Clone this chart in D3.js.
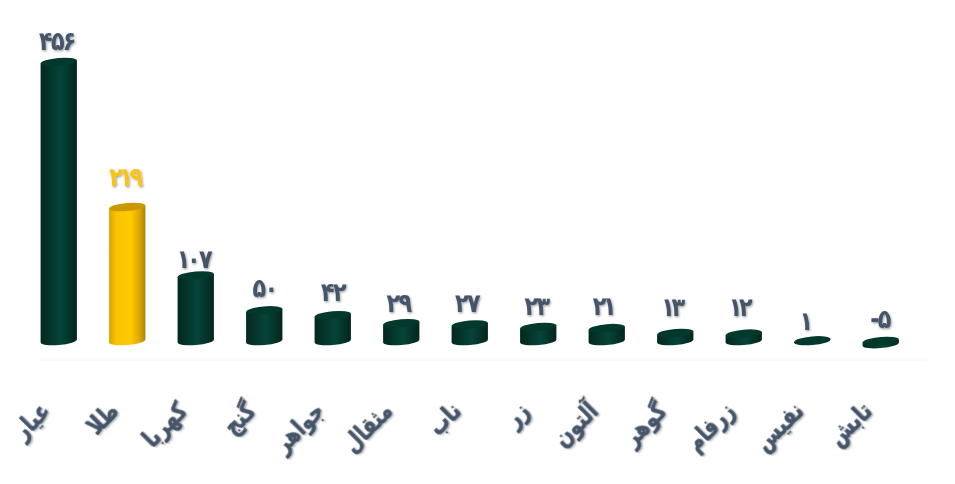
<!DOCTYPE html>
<html><head><meta charset="utf-8">
<script src="https://cdn.jsdelivr.net/npm/d3@7/dist/d3.min.js"></script>
<style>html,body{margin:0;padding:0;background:#fff}svg{display:block}</style>
</head><body>
<svg id="c" width="955" height="484"></svg>
<script>
const categories=["عیار","طلا","کهربا","گنج","جواهر","مثقال","ناب","زر","آلتون","گوهر","زرفام","نفیس","تابش"];
const values=[456,219,107,50,42,29,27,23,21,13,12,1,-5];
const tickLabels=["۴۵۶","۲۱۹","۱۰۷","۵۰","۴۲","۲۹","۲۷","۲۳","۲۱","۱۳","۱۲","۱","-۵"];
const labelLift=[12,21,8,13,14,11,12,12,13,17,18,10,13];
const labelNudge=[-1,-1,-1,1,1,-2,-2,-1,-2,-2,-3,-6,0];
const highlight="طلا";
const svg=d3.select("#c");
const x=d3.scaleBand().domain(categories).range([24.5,915]).paddingInner(.47).paddingOuter(.235);
const y=d3.scaleLinear().domain([0,456]).range([341,62]);
const font="'DejaVu Sans',sans-serif";
const defs=svg.append("defs");
function grad(id,stops){const g=defs.append("linearGradient").attr("id",id).attr("x1",0).attr("x2",1).attr("y1",0).attr("y2",0);
 stops.forEach(s=>g.append("stop").attr("offset",s[0]).attr("stop-color",s[1]));}
grad("gd",[[0,"#03291f"],[.15,"#042f25"],[.55,"#06443a"],[.85,"#042f25"],[1,"#03261c"]]);
grad("gy",[[0,"#d9a400"],[.2,"#fbc400"],[.6,"#ffca00"],[.85,"#dca400"],[1,"#a98308"]]);
const shadow=defs.append("filter").attr("id","sh").attr("x","-20%").attr("y","-20%").attr("width","140%").attr("height","140%");
shadow.append("feDropShadow").attr("dx",1).attr("dy",1.2).attr("stdDeviation",1).attr("flood-color","#000").attr("flood-opacity",.4);
svg.append("line").attr("x1",40).attr("x2",927).attr("y1",360).attr("y2",360).attr("stroke","#f6f6f6");
const ry=4, tilt=-5, rad=tilt*Math.PI/180;
// tighten the wide advance of the digit one so labels sit as compactly as the reference's
function charGaps(t){return Array.from(t).map((ch,k,a)=>k===0?0:(ch==="۱"||a[k-1]==="۱")?-4:-2).join(" ");}
const g=svg.selectAll("g.bar").data(categories).join("g").attr("class","bar");
g.each(function(c,i){
 const s=d3.select(this),v=values[i],x0=x(c),w=x.bandwidth(),cx=x0+w/2,base=y(Math.min(v,0)),top=y(Math.max(v,0));
 const hl=c===highlight,d=(w/2)*Math.sin(rad);
 s.append("path").attr("d",`M${x0},${top-d}L${x0},${base-d}A${w/2},${ry} ${tilt} 0 0 ${x0+w},${base+d}L${x0+w},${top+d}Z`).attr("fill",hl?"url(#gy)":"url(#gd)");
 s.append("ellipse").attr("cx",cx).attr("cy",top).attr("rx",w/2).attr("ry",ry).attr("transform",`rotate(${tilt} ${cx} ${top})`).attr("fill",hl?"#c99a00":"#03392c");
 s.append("text").attr("transform",`translate(${cx+labelNudge[i]},${top-labelLift[i]}) scale(.86,1)`).attr("text-anchor","middle").attr("font-family",font).attr("font-weight",700).attr("font-size",26).attr("dx",charGaps(tickLabels[i]))
  .attr("filter","url(#sh)").attr("fill",hl?"#f9c416":"#44546a").text(tickLabels[i]);
 s.append("text").attr("transform",`translate(${cx-20},400) rotate(-45) scale(.78,1)`).attr("text-anchor","end").attr("dy","0.7em").attr("font-family",font).attr("font-weight",700).attr("font-size",25)
  .attr("stroke","#44546a").attr("stroke-width",.4).attr("filter","url(#sh)").attr("fill","#44546a").text(c);
});
</script></body></html>
